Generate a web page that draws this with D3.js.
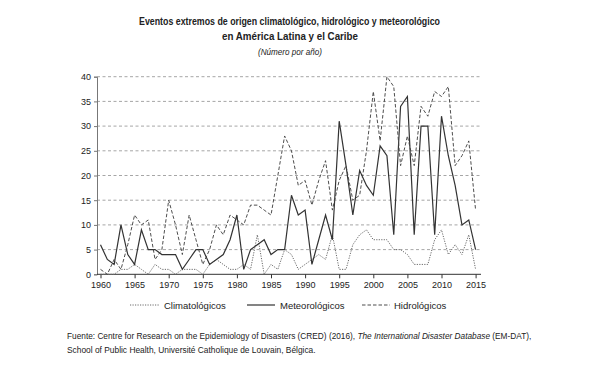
<!DOCTYPE html>
<html><head><meta charset="utf-8">
<script src="https://cdn.jsdelivr.net/npm/d3@7"></script>
<style>body{margin:0;background:#fff}svg{display:block}text{font-family:"Liberation Sans",Arial,sans-serif;fill:#222}</style>
</head><body><svg id="c" width="593" height="379"></svg>
<script>
const years = d3.range(1960, 2016);
const climatologicos = [0,0,0,1,1,2,1,0,2,1,1,0,1,1,1,0,2,3,2,1,1,2,1,8,0,2,1,5,4,1,2,3,4,3,8,1,1,6,8,9,7,7,7,5,5,4,2,2,2,7,9,4,6,4,8,1];
const meteorologicos = [6,3,2,10,4,2,9,5,5,4,4,4,1,3,5,5,2,3,4,7,12,1,5,6,7,4,5,5,16,12,13,2,7,12,7,31,22,12,21,18,16,26,24,8,34,36,8,30,30,8,32,24,18,10,11,5];
const hidrologicos = [1,0,3,1,6,12,10,11,3,5,15,10,4,12,7,2,5,10,8,12,11,10,14,14,13,12,20,28,25,18,19,14,19,23,13,19,22,15,16,25,37,27,40,38,22,28,22,34,32,37,36,38,22,24,27,13];
const yTicks = [0,5,10,15,20,25,30,35,40];
const xTicks = [1960,1965,1970,1975,1980,1985,1990,1995,2000,2005,2010,2015];
const seriesNames = ["Climatológicos","Meteorológicos","Hidrológicos"];

const svg = d3.select("#c");
const x = d3.scalePoint().domain(years).range([100.5, 475.6]);
const y = d3.scaleLinear().domain([0,40]).range([274.3, 76.7]);
const axL = 97, axR = 481;

// gridlines
svg.append("g").selectAll("line").data(yTicks.filter(d=>d>0)).join("line")
  .attr("x1", axL).attr("x2", axR).attr("y1", d=>y(d)).attr("y2", d=>y(d))
  .attr("stroke", "#8f8f8f").attr("stroke-width", 0.8).attr("stroke-dasharray", "3,2.5");

// y axis
const ya = svg.append("g").attr("transform", `translate(${axL},0)`)
  .call(d3.axisLeft(y).tickValues(yTicks).tickSize(3).tickPadding(3));
ya.select(".domain").attr("stroke", "#777");
ya.selectAll(".tick line").attr("stroke", "#777");
ya.selectAll("text").attr("font-size", 9).style("fill", "#222");

// x axis
const xa = svg.append("g").attr("transform", `translate(0,${y(0)})`)
  .call(d3.axisBottom(x).tickValues(xTicks).tickSize(4).tickPadding(3));
xa.select(".domain").attr("d", `M${axL},0H${axR}`).attr("stroke", "#333");
xa.selectAll(".tick line").attr("stroke", "#333");
xa.selectAll("text").attr("font-size", 9).style("fill", "#222");

const styles = [
  {data: climatologicos, dash: "1.2,1.3", color: "#6a6a6a", w: 1},
  {data: meteorologicos, dash: null, color: "#333", w: 1.2},
  {data: hidrologicos, dash: "3.5,2", color: "#444", w: 0.95}
];
const line = d3.line().x((d,i)=>x(years[i])).y(d=>y(d));
styles.forEach(s => {
  svg.append("path").datum(s.data).attr("d", line).attr("fill", "none")
    .attr("stroke", s.color).attr("stroke-width", s.w)
    .attr("stroke-dasharray", s.dash).attr("stroke-linejoin", "miter");
});

// legend
const legX = [[130,160,164],[247,275,280],[362,390,394]];
seriesNames.forEach((n,i) => {
  const s = styles[i];
  svg.append("line").attr("x1", legX[i][0]).attr("x2", legX[i][1]).attr("y1", 305).attr("y2", 305)
    .attr("stroke", s.color).attr("stroke-width", s.w).attr("stroke-dasharray", s.dash);
  svg.append("text").attr("x", legX[i][2]).attr("y", 308.5).attr("font-size", 9.5).text(n);
});

// titles
svg.append("text").attr("x", 139).attr("y", 25).attr("font-size", 10.5).attr("font-weight", "bold")
  .attr("textLength", 301).attr("lengthAdjust", "spacingAndGlyphs")
  .text("Eventos extremos de origen climatológico, hidrológico y meteorológico");
svg.append("text").attr("x", 222).attr("y", 40).attr("font-size", 10.5).attr("font-weight", "bold")
  .attr("textLength", 136).attr("lengthAdjust", "spacingAndGlyphs")
  .text("en América Latina y el Caribe");
svg.append("text").attr("x", 258).attr("y", 55).attr("font-size", 8.5).attr("font-style", "italic")
  .attr("textLength", 64).attr("lengthAdjust", "spacingAndGlyphs")
  .text("(Número por año)");

// source (font size fitted so the line spans the reference width)
const src = svg.append("text").attr("x", 67).attr("y", 339).attr("font-size", 9);
src.append("tspan").text("Fuente: Centre for Research on the Epidemiology of Disasters (CRED) (2016), ");
src.append("tspan").attr("font-style", "italic").text("The International Disaster Database");
src.append("tspan").text(" (EM-DAT),");
const w1 = src.node().getComputedTextLength();
src.attr("font-size", 9 * 465 / w1);
const src2 = svg.append("text").attr("x", 67).attr("y", 353).attr("font-size", 9)
  .text("School of Public Health, Université Catholique de Louvain, Bélgica.");
const w2 = src2.node().getComputedTextLength();
src2.attr("font-size", 9 * 249 / w2);
</script></body></html>
